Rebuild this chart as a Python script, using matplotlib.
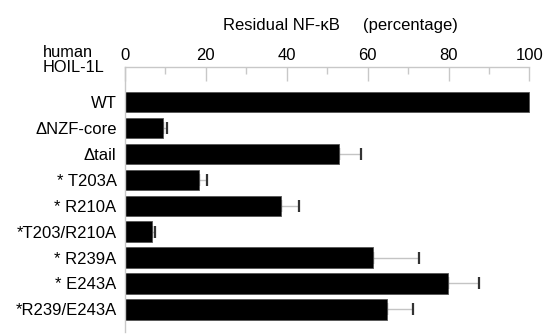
import matplotlib
matplotlib.use("Agg")
import matplotlib.pyplot as plt
import numpy as np

plt.rcParams["font.family"] = ["Liberation Sans", "DejaVu Sans"]

# data
labels = ["WT", "\u0394NZF-core", "\u0394tail", "* T203A", "* R210A",
          "*T203/R210A", "* R239A", "* E243A", "*R239/E243A"]
values = [100, 9.4, 53.0, 18.2, 38.5, 6.7, 61.4, 79.9, 64.9]
errors = [0, 1.0, 5.4, 2.0, 4.5, 0.8, 11.3, 7.6, 6.2]
xticks = [0, 20, 40, 60, 80, 100]


def main():
    fig = plt.figure(figsize=(5.48, 3.34), dpi=100)
    ax = fig.add_axes([0.228, 0.006, 0.741, 0.793])

    y = np.arange(len(labels))
    ax.barh(y, values, height=0.78, color="black", edgecolor="#555555",
            linewidth=0.6, zorder=2)

    has_err = np.array(errors) > 0
    yy = y[has_err]
    vv = np.array(values)[has_err]
    ee = np.array(errors)[has_err]
    eb = ax.errorbar(vv, yy, xerr=[np.zeros_like(ee), ee], fmt="none",
                     ecolor="#c4c4c4", elinewidth=1.0, capsize=4.5,
                     capthick=1.6, zorder=1)
    for cap in eb[1]:
        cap.set_markeredgecolor("#333333")
        cap.set_color("#333333")

    ax.set_xlim(0, 100.4)
    ax.set_ylim(8.87, -1.34)

    ax.xaxis.tick_top()
    ax.set_xticks(xticks)
    ax.set_xticks(np.arange(10, 100, 20), minor=True)
    ax.tick_params(axis="x", which="major", direction="in", length=10,
                   width=1.0, color="#c8c8c8", pad=3, labelsize=12)
    ax.tick_params(axis="x", which="minor", direction="in", length=5,
                   width=1.0, color="#c8c8c8")

    ax.set_yticks(y)
    ax.set_yticklabels(labels, fontsize=12)
    ax.tick_params(axis="y", length=0, pad=6)

    for side in ["right", "bottom"]:
        ax.spines[side].set_visible(False)
    for side in ["top", "left"]:
        ax.spines[side].set_color("#c8c8c8")
        ax.spines[side].set_linewidth(1.0)
    ax.spines["top"].set_bounds(0, 100)

    fig.text(0.621, 0.925, "Residual NF-\u03baB     (percentage)",
             ha="center", va="center", fontsize=12)
    fig.text(0.078, 0.776, "human\nHOIL-1L", ha="left", va="bottom",
             fontsize=11.8, linespacing=0.95)

    fig.savefig("out.png", dpi=100)


if __name__ == "__main__":
    main()
